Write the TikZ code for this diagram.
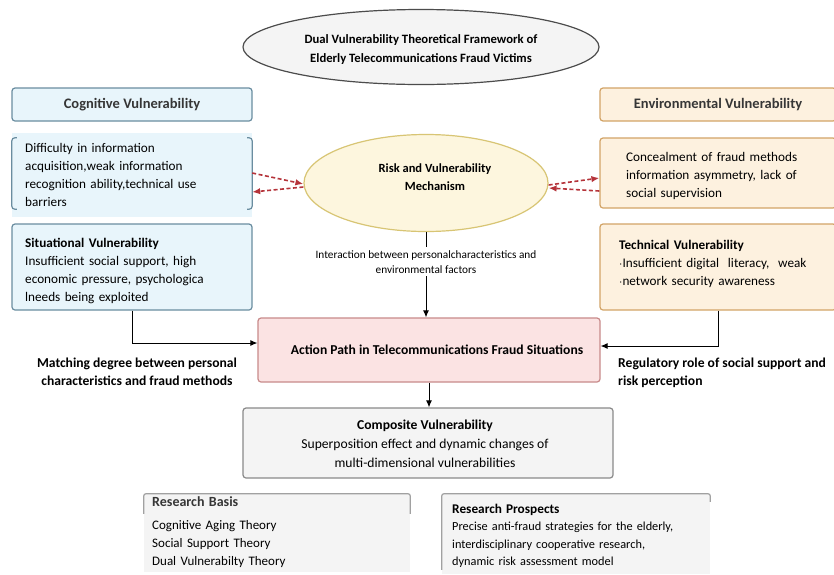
\documentclass[tikz,border=0pt]{standalone}
\usepackage{fontspec}
\setmainfont{Carlito}
\usepackage{xcolor}
\usetikzlibrary{shapes.geometric, arrows.meta}

\definecolor{bluefill}{HTML}{E8F5FB}
\definecolor{blueline}{HTML}{6A8DA0}
\definecolor{orfill}{HTML}{FDF1DF}
\definecolor{orline}{HTML}{D2A467}
\definecolor{yefill}{HTML}{FDF6DE}
\definecolor{yeline}{HTML}{D8C574}
\definecolor{pkfill}{HTML}{FBE3E3}
\definecolor{pkline}{HTML}{C88A8A}
\definecolor{gyfill}{HTML}{F4F4F4}
\definecolor{gyline}{HTML}{8A8A8A}
\definecolor{darkred}{HTML}{B5333A}
\definecolor{headtxt}{HTML}{363636}

\begin{document}
\begin{tikzpicture}[x=1pt, y=-1pt,
  every node/.style={font=\fontsize{13.2}{18}\selectfont, inner sep=0pt},
  bluebox/.style={draw=blueline, line width=1.2pt, fill=bluefill, rounded corners=3pt},
  orbox/.style={draw=orline, line width=1.2pt, fill=orfill, rounded corners=3pt},
  headbox/.style={minimum height=33pt, font=\fontsize{14.5}{16}\selectfont\bfseries\color{headtxt}},
  lblbold/.style={font=\fontsize{13.6}{18}\selectfont\bfseries},
  infobox/.style={align=left, text width=#1},
  dasharrow/.style={darkred, dashed, line width=1.6pt, dash pattern=on 4pt off 2.5pt, -{Latex[length=8pt, width=6.5pt, fill=darkred]}},
  flowarrow/.style={line width=1pt, -{Latex[length=7pt, width=6pt]}}
]

\useasboundingbox (0,0) rectangle (834,574);
\fill[white] (0,0) rectangle (834,574);

% titulo
\node[ellipse, draw=black!70, line width=1.2pt, fill=gyfill, minimum width=356pt, minimum height=75pt] (title) at (421,47) {};
\node[align=center, font=\fontsize{12.7}{19}\selectfont\bfseries] (titletxt) at (421,50)
  {Dual Vulnerability Theoretical Framework of\\Elderly Telecommunications Fraud Victims};

% lado izquierdo
\node[bluebox, headbox, minimum width=240pt] (cog) at (132,104.5) {Cognitive Vulnerability};
\node[fill=bluefill, minimum width=240pt, minimum height=84pt] (dif) at (132,175) {};
\node[infobox=226pt, anchor=west] (diftxt) at (25,175)
  {Difficulty in information\\acquisition,weak information\\recognition ability,technical use\\barriers};
\draw[blueline, line width=1.2pt, rounded corners=3pt]
  ([xshift=5pt,yshift=-5pt]dif.north west) -- ([yshift=-5pt]dif.north west) -- ([yshift=8pt]dif.south west) -- ([xshift=5pt,yshift=8pt]dif.south west);
\draw[blueline, line width=1.2pt, rounded corners=3pt]
  ([xshift=-5pt,yshift=-5pt]dif.north east) -- ([yshift=-5pt]dif.north east) -- ([yshift=8pt]dif.south east) -- ([xshift=-5pt,yshift=8pt]dif.south east);
\node[bluebox, minimum width=240pt, minimum height=86pt] (sit) at (132,267) {};
\node[infobox=232pt, anchor=west] (sittxt) at (25,271)
  {\textbf{Situational Vulnerability}\\Insufficient social support, high\\economic pressure, psychologica\\lneeds being exploited};

% lado derecho
\node[orbox, headbox, minimum width=236pt] (env) at (718,104.5) {Environmental Vulnerability};
\node[orbox, minimum width=236pt, minimum height=70pt] (con) at (718,173) {};
\node[infobox=215pt, anchor=west] (contxt) at (626,176)
  {Concealment of fraud methods\\information asymmetry, lack of\\social supervision};
\node[orbox, minimum width=236pt, minimum height=86pt] (tech) at (718,267) {};
\node[infobox=215pt, anchor=west] (techtxt) at (619,264)
  {\textbf{Technical Vulnerability}\\$\cdot$Insufficient digital\ \ literacy,\ \ weak\\$\cdot$network security awareness};

% mecanismo
\node[ellipse, draw=yeline, line width=1.2pt, fill=yefill, minimum width=244pt, minimum height=97pt] (risk) at (426,183) {};
\node[align=center, font=\fontsize{12.5}{18}\selectfont\bfseries] (risktxt) at (435,177)
  {Risk and Vulnerability\\Mechanism};

\draw[dasharrow] ([yshift=2pt]dif.east) -- ([yshift=-1pt]risk.west);
\draw[dasharrow] ([yshift=-4pt]risk.west) -- ([yshift=-17pt]dif.east);
\draw[dasharrow] ([yshift=-2pt]risk.east) -- ([yshift=-5pt]con.west);
\draw[dasharrow] ([yshift=-18pt]con.west) -- ([yshift=-5pt]risk.east);

% camino de accion
\node[draw=pkline, line width=1.2pt, fill=pkfill, rounded corners=3pt, minimum width=342pt, minimum height=64pt] (action) at (429,350) {};
\node[lblbold] (actiontxt) at (437,350) {Action Path in Telecommunications Fraud Situations};

\draw[flowarrow] (risk.south) -- (risk.south |- action.north)
  node[pos=0.35, fill=white, inner sep=3pt, align=center, font=\fontsize{11.3}{15}\selectfont] (inter)
  {Interaction between personalcharacteristics and\\environmental factors};

\draw[flowarrow] (sit.south) |- ([yshift=7pt]action.west);
\draw[flowarrow] (tech.south) |- ([yshift=4pt]action.east);

\node[align=center, lblbold] (matchlbl) at (137,372)
  {Matching degree between personal\\characteristics and fraud methods};
\node[anchor=west, align=left, lblbold] (reglbl) at (618,373)
  {Regulatory role of social support and\\risk perception};

% vulnerabilidad compuesta
\node[draw=gyline, line width=1.2pt, fill=gyfill, rounded corners=3pt, minimum width=370pt, minimum height=70pt] (comp) at (428,443) {};
\node[align=center, font=\fontsize{13.6}{19}\selectfont] (comptxt) at (425,444)
  {\textbf{Composite Vulnerability}\\Superposition effect and dynamic changes of\\multi-dimensional vulnerabilities};
\draw[flowarrow] (action.south) -- (action.south |- comp.north);

% bases y perspectivas
\node[fill=gyfill, minimum width=266pt, minimum height=78pt] (basis) at (277,533) {};
\draw[gyline!80, line width=1.2pt, rounded corners=2pt]
  ([yshift=-20pt]basis.north west) -- (basis.north west) -- (basis.north east) -- ([yshift=-20pt]basis.north east);
\node[infobox=250pt, anchor=north west, font=\fontsize{13}{18}\selectfont] (basistxt) at (152,496)
  {{\fontsize{14}{18}\selectfont\bfseries\color{headtxt}Research Basis}\\[5pt]Cognitive Aging Theory\\Social Support Theory\\Dual Vulnerabilty Theory};

\node[fill=gyfill, minimum width=268pt, minimum height=80pt] (prosp) at (576,534) {};
\draw[gyline!80, line width=1.2pt, rounded corners=2pt]
  ([yshift=-76pt]prosp.north west) -- (prosp.north west) -- (prosp.north east) -- ([yshift=-8pt]prosp.north east);
\node[infobox=260pt, anchor=north west, font=\fontsize{12.3}{17.3}\selectfont] (prosptxt) at (452,504)
  {{\fontsize{13.3}{17.3}\selectfont\bfseries Research Prospects}\\Precise anti-fraud strategies for the elderly,\\interdisciplinary cooperative research,\\dynamic risk assessment model};

\end{tikzpicture}
\end{document}
